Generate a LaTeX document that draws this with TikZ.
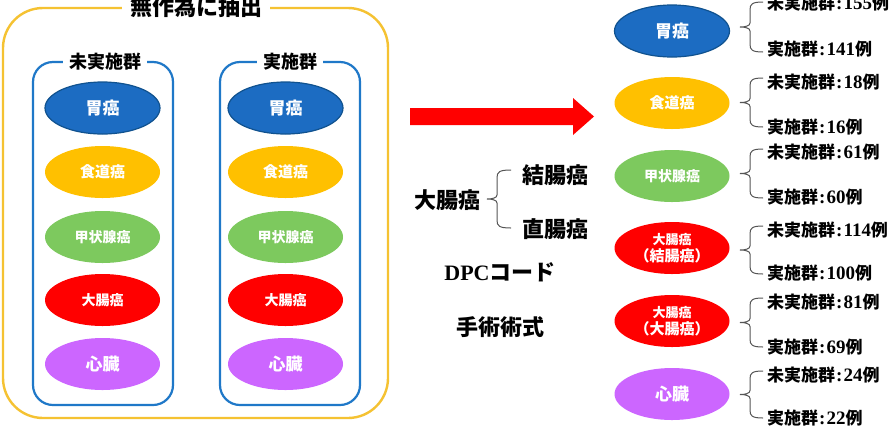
\documentclass[tikz,border=0pt]{standalone}
\usepackage{fontspec}
\setmainfont{Liberation Serif}
\newfontfamily\jp{Noto Sans CJK JP}
\usetikzlibrary{shapes.geometric}
\definecolor{cblue}{HTML}{1C6CC2}
\definecolor{cbluedark}{HTML}{10528F}
\definecolor{cgold}{HTML}{FFC000}
\definecolor{cgreen}{HTML}{7DC95E}
\definecolor{cred}{HTML}{FF0000}
\definecolor{cpurple}{HTML}{CC66FF}
\definecolor{boxblue}{HTML}{1F78C8}
\definecolor{boxyellow}{HTML}{F5C232}
\definecolor{bracegray}{HTML}{555555}
\tikzset{
  ell/.style={ellipse, minimum width=115pt, minimum height=52pt, inner sep=0pt,
    text=white, font=\jp\bfseries\fontsize{15}{17}\selectfont, align=center},
  eblue/.style={ell, fill=cblue, draw=cbluedark, line width=1.2pt},
  egold/.style={ell, fill=cgold},
  egreen/.style={ell, fill=cgreen},
  ered/.style={ell, fill=cred},
  epurple/.style={ell, fill=cpurple},
  grpbox/.style={draw=boxblue, line width=2.2pt, rounded corners=20pt},
  grptitle/.style={fill=white, inner xsep=6pt, inner ysep=2pt, font=\jp\bfseries\fontsize{18}{20}\selectfont},
  midtext/.style={font=\jp\bfseries\fontsize{22}{24}\selectfont, inner sep=0pt},
  lbl/.style={anchor=west, inner sep=0pt, font=\jp\bfseries\fontsize{17}{19}\selectfont},
  bracepath/.style={draw=bracegray, line width=1pt},
}
\newcommand{\numb}[1]{{\rmfamily\bfseries\fontsize{19}{19}\selectfont #1}}
\newcommand{\cln}{\hspace{1pt}{\rmfamily\bfseries\fontsize{19}{19}\selectfont :}\hspace{1pt}}
\newcommand{\mybrace}[5]{%
  \draw[bracepath] (#3,#4) .. controls (#2+2,#4) and (#2,#4+2) .. (#2,#4+8)
    -- (#2,{(#4+#5)/2-4}) .. controls (#2,{(#4+#5)/2-1}) and (#1+5,{(#4+#5)/2}) .. (#1,{(#4+#5)/2})
    .. controls (#1+5,{(#4+#5)/2}) and (#2,{(#4+#5)/2+1}) .. (#2,{(#4+#5)/2+4})
    -- (#2,#5-8) .. controls (#2,#5-2) and (#2+2,#5) .. (#3,#5);}
\begin{document}
\begin{tikzpicture}[x=1pt,y=-1pt]
\useasboundingbox (0,0) rectangle (896,429);
\fill[white] (0,0) rectangle (896,429);

% outer yellow box
\draw[draw=boxyellow, line width=2.4pt, rounded corners=40pt] (3,8) rectangle (388,418);
\node[fill=white, inner xsep=8pt, inner ysep=1pt, font=\jp\bfseries\fontsize{22}{24}\selectfont] (title) at (196,7) {無作為に抽出};

% group boxes
\draw[grpbox] (33,62) rectangle (173,405);
\node[grptitle] (g1) at (105,62) {未実施群};
\draw[grpbox] (220,62) rectangle (360,405);
\node[grptitle] (g2) at (290,62) {実施群};

% left column
\node[eblue]   (a1) at (102.5,108) {\fontsize{17}{19}\selectfont 胃癌};
\node[egold]   (a2) at (102.5,172) {食道癌};
\node[egreen]  (a3) at (102.5,237) {\fontsize{14}{16}\selectfont 甲状腺癌};
\node[ered]    (a4) at (102.5,300) {\fontsize{14}{16}\selectfont 大腸癌};
\node[epurple] (a5) at (102.5,364) {\fontsize{17}{19}\selectfont 心臓};
% right column
\node[eblue]   (b1) at (285.5,108) {\fontsize{17}{19}\selectfont 胃癌};
\node[egold]   (b2) at (285.5,172) {食道癌};
\node[egreen]  (b3) at (285.5,237) {\fontsize{14}{16}\selectfont 甲状腺癌};
\node[ered]    (b4) at (285.5,300) {\fontsize{14}{16}\selectfont 大腸癌};
\node[epurple] (b5) at (285.5,364) {\fontsize{17}{19}\selectfont 心臓};

% red arrow
\fill[cred] (410,108) -- (573,108) -- (573,98) -- (594,116.5) -- (573,135) -- (573,125) -- (410,125) -- cycle;

% middle texts
\node[midtext] (dc) at (447,200) {大腸癌};
\node[midtext] (kc) at (555,175) {結腸癌};
\node[midtext] (cc) at (555,229) {直腸癌};
\mybrace{487}{497}{511}{170}{228}
\node[midtext] (dpc) at (500,272) {{\rmfamily\bfseries\fontsize{22}{24}\selectfont DPC}コード};
\node[midtext] (sj) at (500,327) {手術術式};

% right results
\node[eblue]   (r1) at (672,31) {\fontsize{17}{19}\selectfont 胃癌};
\node[egold]   (r2) at (672,103) {食道癌};
\node[egreen]  (r3) at (672,176) {\fontsize{14}{16}\selectfont 甲状腺癌};
\node[ered]    (r4) at (672,248) {\fontsize{13}{16}\selectfont 大腸癌\\（結腸癌）};
\node[ered]    (r5) at (672,321) {\fontsize{13}{16}\selectfont 大腸癌\\（大腸癌）};
\node[epurple] (r6) at (672,394) {\fontsize{17}{19}\selectfont 心臓};

\mybrace{740}{750}{763}{2}{52}
\node[lbl] (l1a) at (767,3) {未実施群\cln\numb{155}例};
\node[lbl] (l1b) at (767,49) {実施群\cln\numb{141}例};

\mybrace{740}{750}{763}{78}{127}
\node[lbl] (l2a) at (767,82) {未実施群\cln\numb{18}例};
\node[lbl] (l2b) at (767,127) {実施群\cln\numb{16}例};

\mybrace{740}{750}{763}{149}{198}
\node[lbl] (l3a) at (767,152) {未実施群\cln\numb{61}例};
\node[lbl] (l3b) at (767,197) {実施群\cln\numb{60}例};

\mybrace{740}{750}{763}{226}{274}
\node[lbl] (l4a) at (767,230) {未実施群\cln\numb{114}例};
\node[lbl] (l4b) at (767,273) {実施群\cln\numb{100}例};

\mybrace{740}{750}{763}{298}{347}
\node[lbl] (l5a) at (767,302) {未実施群\cln\numb{81}例};
\node[lbl] (l5b) at (767,347) {実施群\cln\numb{69}例};

\mybrace{740}{750}{763}{371}{418}
\node[lbl] (l6a) at (767,375) {未実施群\cln\numb{24}例};
\node[lbl] (l6b) at (767,418) {実施群\cln\numb{22}例};
\end{tikzpicture}
\end{document}
